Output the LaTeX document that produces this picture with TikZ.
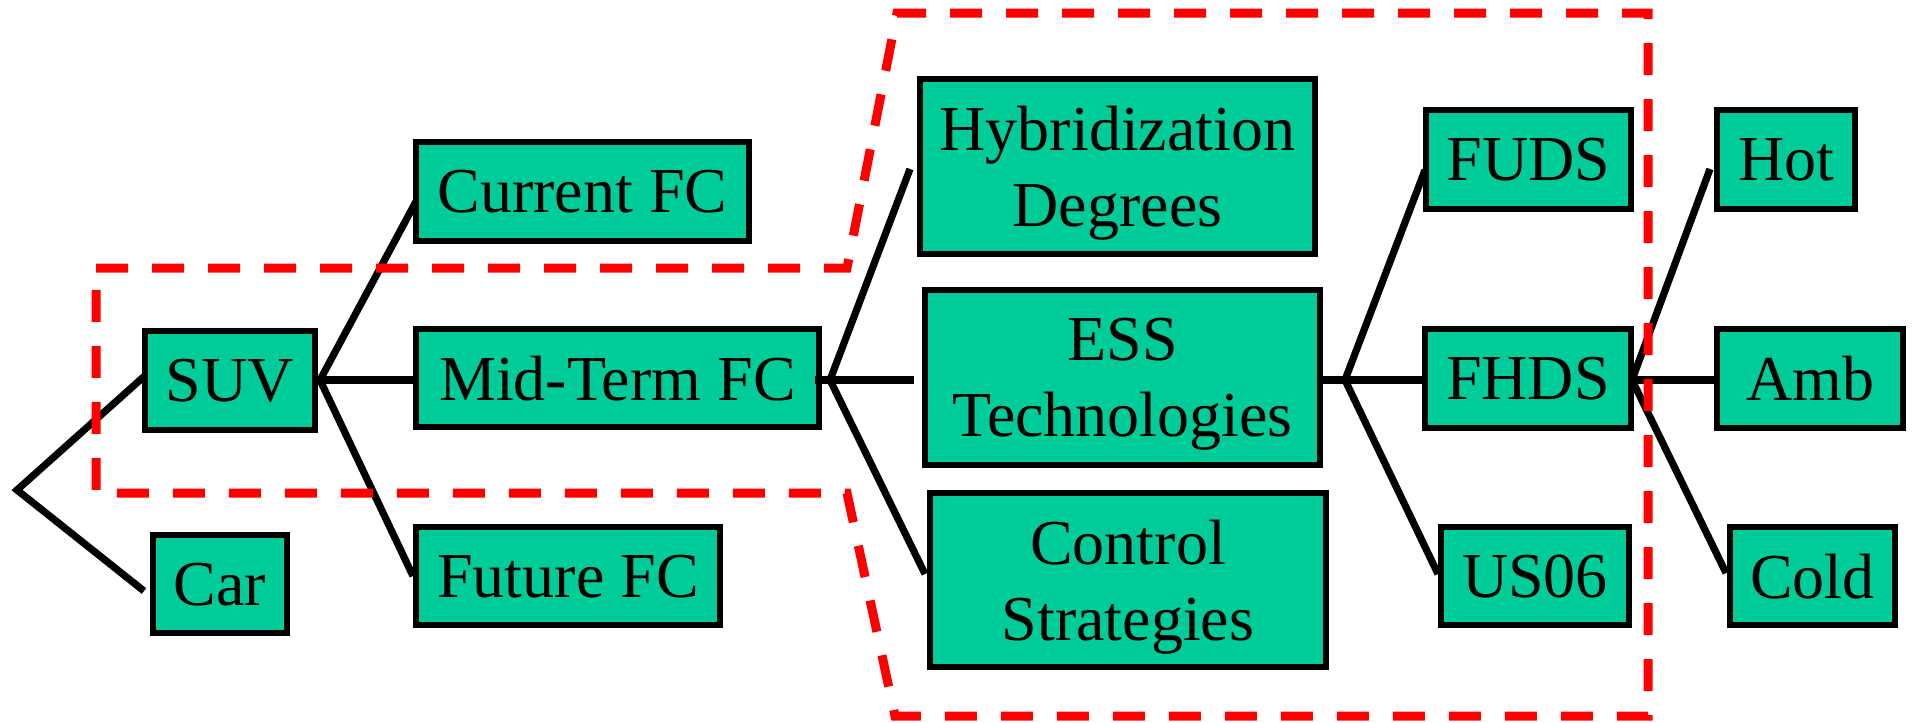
\documentclass[tikz,border=0pt]{standalone}
\usepackage{fontspec}
\setmainfont{Liberation Serif}
\usetikzlibrary{calc}
\definecolor{boxgreen}{RGB}{0,204,153}
\definecolor{dashred}{RGB}{255,0,0}
\begin{document}
\begin{tikzpicture}[x=1pt,y=-1pt,
  box/.style={draw=black, line width=5.8pt, fill=boxgreen, inner sep=0pt,
    align=center, font=\fontsize{64}{76}\selectfont, text depth=0pt},
  conn/.style={line width=7.2pt, draw=black, line join=miter},
  region/.style={draw=dashred, line width=9pt, dash pattern=on 32pt off 24pt, line join=miter}]
\useasboundingbox (0,0) rectangle (1915,723);

% nodes
\node[box, minimum width=170.2pt, minimum height=99.2pt] (suv) at (230,380.5) {SUV};
\node[box, minimum width=134.2pt, minimum height=98.2pt] (car) at (220,584) {Car};
\node[box, minimum width=333.2pt, minimum height=99.2pt] (cur) at (582.5,191.5) {Current FC};
\node[box, minimum width=403.2pt, minimum height=98.2pt] (mid) at (617.5,378) {Mid-Term FC};
\node[box, minimum width=304.2pt, minimum height=98.2pt] (fut) at (568,576) {Future FC};
\node[box, minimum width=395.2pt, minimum height=175.2pt] (hyb) at (1117.5,166.5) {Hybridization\\Degrees};
\node[box, minimum width=395.2pt, minimum height=175.2pt] (ess) at (1122.5,377.5) {ESS\\Technologies};
\node[box, minimum width=396.2pt, minimum height=174.2pt] (ctl) at (1128,580) {Control\\Strategies};
\node[box, minimum width=205.2pt, minimum height=99.2pt] (fuds) at (1528.5,159.5) {FUDS};
\node[box, minimum width=206.2pt, minimum height=99.2pt] (fhds) at (1528,378.5) {FHDS};
\node[box, minimum width=188.2pt, minimum height=98.2pt] (us) at (1535,576) {US06};
\node[box, minimum width=138.2pt, minimum height=99.2pt] (hot) at (1786,159.5) {Hot};
\node[box, minimum width=186.2pt, minimum height=99.2pt] (amb) at (1810,378.5) {Amb};
\node[box, minimum width=165.2pt, minimum height=98.2pt] (cold) at (1812.5,576) {Cold};

% branch points
\coordinate (root) at (17,490);
\coordinate (sb) at ($(suv.east)+(2,-0.5)$);
\coordinate (mb) at ($(mid.east)+(8,2)$);
\coordinate (eb) at ($(ess.east)+(22,2.5)$);
\coordinate (fb) at ($(fhds.east)+(-2,1.5)$);

% connectors
\draw[conn] ($(suv.west)+(2,-4)$) -- (root) -- ($(car.west)+(-6,7)$);
\draw[conn] ($(cur.west)+(3,10)$) -- (sb) -- (fut.west);
\draw[conn] (sb) -- (sb -| mid.west);
\draw[conn] ($(hyb.west)+(-7,2.5)$) -- (mb) -- ($(ctl.west)+(-2,-6)$);
\draw[conn] ($(mid.east)+(-7,2)$) -- ($(ess.west)+(-8,2.5)$);
\draw[conn] ($(fuds.west)+(2,10.5)$) -- (eb) -- ($(us.west)+(0,-2)$);
\draw[conn] (ess.east |- eb) -- (eb -| fhds.west);
\draw[conn] ($(hot.west)+(-4,9.5)$) -- (fb) -- ($(cold.west)+(-1,-3)$);
\draw[conn] (fb) -- (fb -| amb.west);

% dashed region
\draw[region] (96,268) -- (847,268) -- (897,13) -- (1648,13) -- (1648,716)
  -- (895,716) -- (847,493) -- (96,493) -- cycle;
\end{tikzpicture}
\end{document}
